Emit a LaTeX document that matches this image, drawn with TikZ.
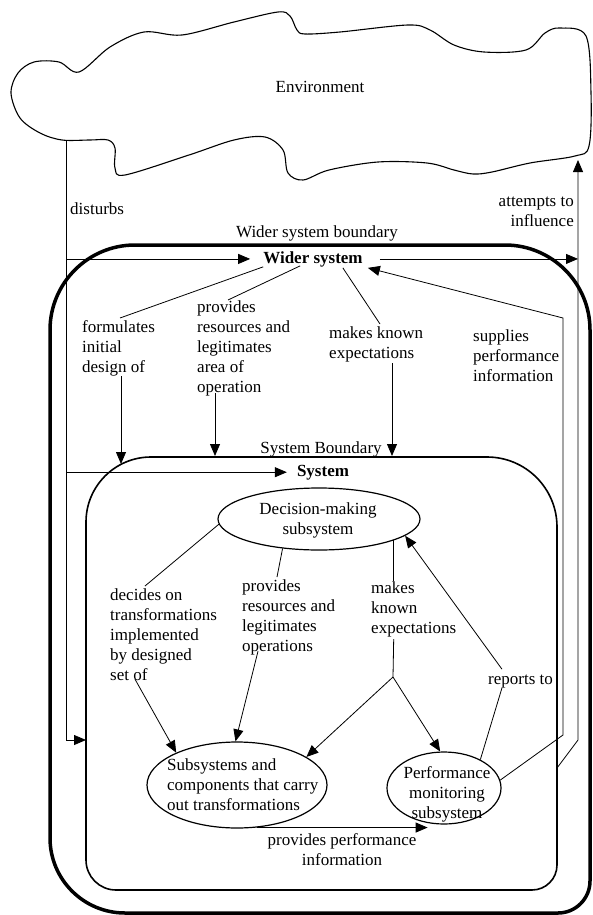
\documentclass[tikz,border=0pt]{standalone}
\usepackage{fontspec}
\setmainfont{Liberation Serif}
\usetikzlibrary{arrows.meta,shapes.geometric,calc}
\begin{document}
\begin{tikzpicture}[x=1pt,y=-1pt,
  every node/.style={inner sep=0pt, font=\fontsize{17}{20}\selectfont},
  lbl/.style={anchor=north west, align=left, execute at begin node=\strut},
  clbl/.style={anchor=north, align=center, execute at begin node=\strut},
  ttl/.style={anchor=base, font=\fontsize{17}{20}\selectfont\bfseries},
  ln/.style={line width=0.8pt},
  arr/.style={ln, -{Triangle[length=12pt,width=10pt]}},
  bubble/.style={draw, ellipse, line width=1.2pt},
]
\useasboundingbox (0,0) rectangle (593,915);

% ---------- environment cloud ----------
\draw[line width=1.1pt] plot[smooth cycle, tension=0.55] coordinates {
  (62,140) (40,133) (20,118) (11,93) (18,73) (34,62) (59,62) (79,72)
  (110,47) (144,32) (182,35) (234,22) (278,12) (290,16) (297,30) (305,34)
  (340,32) (408,25) (430,30) (454,45) (484,52) (526,50) (545,33) (560,28)
  (586,36) (591,93) (589,146) (575,156) (530,163) (492,172) (473,174)
  (454,170) (427,163) (378,162) (329,170) (303,180) (288,173) (283,150)
  (265,137) (234,140) (189,155) (125,175) (115,168) (115,148) (108,140) (90,140)};
\node[anchor=base] (env) at (320,93) {Environment};
\coordinate (env-sw) at (66,140);
\coordinate (env-se) at (578,160);

% ---------- boundaries ----------
% wider system boundary (thick)
\draw[line width=3.5pt] (300,245) -- (505,245) arc[start angle=270,end angle=360,radius=85]
  -- (590,881) arc[start angle=0,end angle=90,radius=32]
  -- (125,913) arc[start angle=90,end angle=180,radius=75]
  -- (50,330) arc[start angle=180,end angle=270,radius=85] -- cycle;
% system boundary
\draw[line width=1.6pt] (300,457) -- (487,457) arc[start angle=270,end angle=360,radius=70]
  -- (557,865) arc[start angle=0,end angle=90,radius=25]
  -- (116,890) arc[start angle=90,end angle=180,radius=30]
  -- (86,522) arc[start angle=180,end angle=270,radius=65] -- cycle;

% ---------- titles and free labels ----------
\node[anchor=base] (wsb) at (317,237) {Wider system boundary};
\node[ttl] (wider) at (313,263) {Wider system};
\node[anchor=base] (sb) at (321,453) {System Boundary};
\node[ttl] (sys) at (323,476) {System};
\node[anchor=base west] (dist) at (70,214) {disturbs};
\node[anchor=north east, align=right, execute at begin node=\strut] (att) at (574,197) {attempts to\\influence};

\node[lbl] (form) at (82,320) {formulates\\initial\\design of};
\node[lbl] (prov) at (197,301) {provides\\resources and\\legitimates\\area of\\operation};
\node[lbl] (mk) at (329,327) {makes known\\expectations};
\node[lbl] (sup) at (473,330) {supplies\\performance\\information};

% ---------- subsystems ----------
\node[bubble, minimum width=202pt, minimum height=62pt] (dm) at (319,519) {};
\node[clbl] (dmt) at (318,502) {Decision-making\\subsystem};
\node[bubble, minimum width=180pt, minimum height=86pt] (ss) at (237,785) {};
\node[lbl] (sst) at (167,758) {Subsystems and\\components that carry\\out transformations};
\node[bubble, minimum width=114pt, minimum height=72pt] (pm) at (444,788) {};
\node[clbl] (pmt) at (447,766) {Performance\\monitoring\\subsystem};

\node[lbl] (dec) at (110,588) {decides on\\transformations\\implemented\\by designed\\set of};
\node[lbl] (prv2) at (242,579) {provides\\resources and\\legitimates\\operations};
\node[lbl] (mk2) at (371,581) {makes\\known\\expectations};
\node[anchor=base west] (rep) at (488,684) {reports to};
\node[clbl] (ppi) at (342,833) {provides performance\\information};

% ---------- environment links ----------
\coordinate (d-bot) at (66,740);
\coordinate (sys-w) at (86,740);
\draw[ln] (env-sw) -- (d-bot);
\draw[arr] (d-bot) -- (sys-w);
\draw[arr] (env-sw |- wider.west) -- ($(wider.west)+(-13,0)$);
\draw[arr] (env-sw |- sys.west) -- ($(sys.west)+(-10,0)$);

\coordinate (att-a) at (557,768);
\coordinate (att-b) at (578,740);
\draw[arr] (att-a) -- (att-b) -- (env-se);
\draw[arr] ($(wider.east)+(17,0)$) -- (att-b |- wider.east);

% supplies performance information
\coordinate (sup-a) at (563,735);
\coordinate (sup-b) at (563,318);
\draw[arr] (pm.8) -- (sup-a) -- (sup-b) -- ($(wider.south east)+(5,1)$);

% ---------- wider system to system ----------
\coordinate (form-tip) at (121,464);
\draw[ln] (wider.south west) -- ($(form.north west)+(38,-2)$);
\draw[arr] ($(form.south west)+(39,-2)$) -- (form-tip);

\coordinate (prov-tip) at (215,456);
\draw[ln] ($(wider.south west)+(37,-1)$) -- ($(prov.north west)+(31,-1)$);
\draw[arr] ($(prov.south west)+(18,-6)$) -- (prov-tip);

\coordinate (mk-tip) at (392,456);
\draw[ln] ($(wider.south east)+(-20,1)$) -- ($(mk.north west)+(51,-3)$);
\draw[arr] ($(mk.south west)+(63,-2)$) -- (mk-tip);

% ---------- inside the system ----------
\draw[ln] (dm.183) -- ($(dec.north west)+(35,-2)$);
\draw[arr] ($(dec.south west)+(25,-7)$) -- (ss.152);

\draw[ln] (dm.219) -- ($(prv2.north west)+(35,-2)$);
\draw[arr] ($(prv2.south west)+(16,-6)$) -- (ss.92);

\coordinate (junc) at (393,677);
\draw[ln] (dm.-16) -- (dm.-16 |- mk2.north);
\draw[ln] (dm.-16 |- mk2.south) -- (junc);
\draw[arr] (junc) -- (ss.22);
\draw[arr] (junc) -- (pm.96);

\draw[ln] (pm.38) -- ($(rep.south west)+(14,0)$);
\draw[arr] ($(rep.north west)+(14,-5)$) -- (dm.-11);

\draw[arr] (ss.-65) -- (ss.-65 -| pm.245);
\end{tikzpicture}
\end{document}
